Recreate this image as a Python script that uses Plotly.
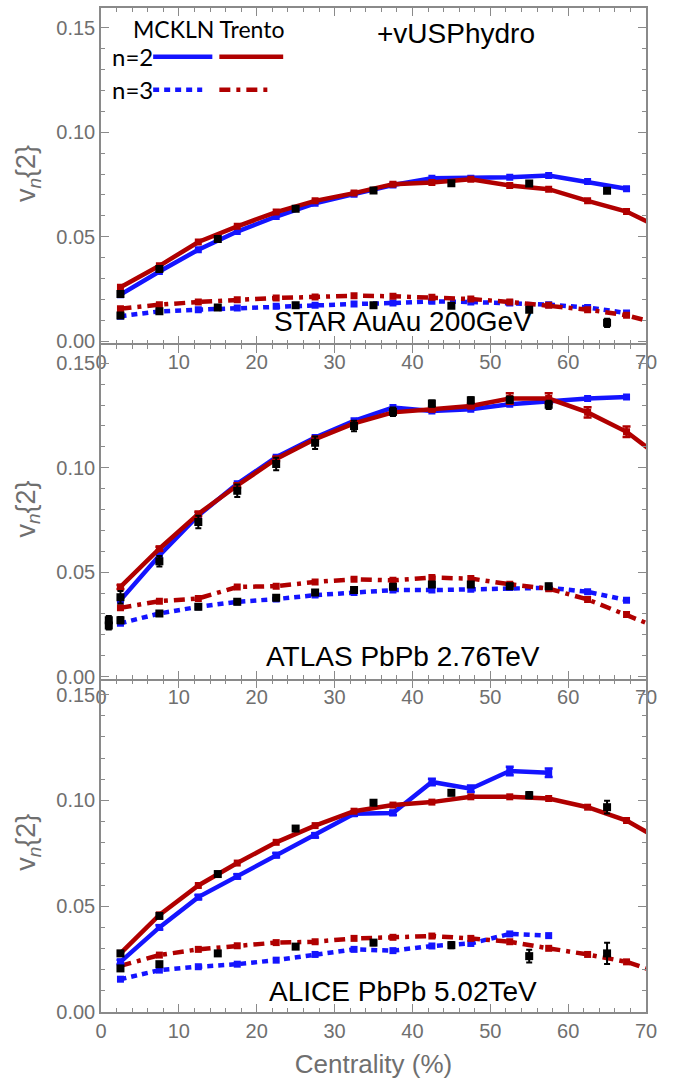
import plotly.graph_objects as go

# ---------------- data ----------------
cent_model = [2.5, 7.5, 12.5, 17.5, 22.5, 27.5, 32.5, 37.5, 42.5, 47.5, 52.5, 57.5, 62.5, 67.5]
cent_model_ext = cent_model + [72.5]
cent_exp = [2.5, 7.5, 15, 25, 35, 45, 55, 65]
cent_atlas = [1.0, 2.5, 7.5, 12.5, 17.5, 22.5, 27.5, 32.5, 37.5, 42.5, 47.5, 52.5, 57.5]

# STAR AuAu 200 GeV
star_mckln_v2 = [0.0223, 0.0334, 0.0438, 0.0525, 0.0597, 0.0660, 0.0704, 0.0748, 0.0780, 0.0780, 0.0785, 0.0793, 0.0764, 0.0730]
star_trento_v2 = [0.0258, 0.0361, 0.0475, 0.0550, 0.0618, 0.0672, 0.0709, 0.0752, 0.0760, 0.0775, 0.0745, 0.0728, 0.0672, 0.0621, 0.0530]
star_mckln_v3 = [0.0120, 0.0143, 0.0151, 0.0159, 0.0167, 0.0172, 0.0178, 0.0183, 0.0191, 0.0188, 0.0183, 0.0175, 0.0162, 0.0135]
star_trento_v3 = [0.0156, 0.0175, 0.0188, 0.0199, 0.0207, 0.0212, 0.0218, 0.0215, 0.0210, 0.0202, 0.0188, 0.0172, 0.0151, 0.0124, 0.0075]
star_v2 = [0.0226, 0.0346, 0.0489, 0.0634, 0.0721, 0.0756, 0.0755, 0.0720]
star_v2_err = [0.0008, 0.0008, 0.0008, 0.0008, 0.0008, 0.0008, 0.0008, 0.0010]
star_v3 = [0.0123, 0.0143, 0.0162, 0.0172, 0.0172, 0.0170, 0.0151, 0.0088]
star_v3_err = [0.0008, 0.0008, 0.0008, 0.0008, 0.0008, 0.0008, 0.0010, 0.0020]

# ATLAS PbPb 2.76 TeV
atlas_mckln_v2 = [0.0366, 0.0580, 0.0771, 0.0923, 0.1050, 0.1145, 0.1225, 0.1288, 0.1272, 0.1280, 0.1304, 0.1320, 0.1331, 0.1339]
atlas_trento_v2 = [0.0429, 0.0612, 0.0779, 0.0915, 0.1042, 0.1137, 0.1212, 0.1265, 0.1280, 0.1296, 0.1331, 0.1331, 0.1265, 0.1172, 0.1030]
atlas_trento_v2_err = [0.001, 0.001, 0.001, 0.001, 0.001, 0.001, 0.001, 0.001, 0.001, 0.001, 0.0025, 0.0025, 0.0025, 0.0025, 0.0025]
atlas_mckln_v3 = [0.0255, 0.0302, 0.0334, 0.0358, 0.0371, 0.0390, 0.0402, 0.0414, 0.0414, 0.0418, 0.0426, 0.0425, 0.0406, 0.0366]
atlas_trento_v3 = [0.0329, 0.0361, 0.0374, 0.0429, 0.0433, 0.0453, 0.0466, 0.0461, 0.0474, 0.0469, 0.0442, 0.0421, 0.0369, 0.0297, 0.0220]
atlas_v2 = [0.0270, 0.0380, 0.0552, 0.0740, 0.0890, 0.1018, 0.1120, 0.1200, 0.1268, 0.1307, 0.1323, 0.1325, 0.1301]
atlas_v2_err = [0.0020, 0.0030, 0.0025, 0.0030, 0.0030, 0.0030, 0.0030, 0.0025, 0.0020, 0.0015, 0.0015, 0.0015, 0.0020]
atlas_v3 = [0.0245, 0.0270, 0.0302, 0.0334, 0.0358, 0.0377, 0.0402, 0.0414, 0.0430, 0.0441, 0.0441, 0.0433, 0.0433]
atlas_v3_err = [0.0020, 0.0015, 0.0012, 0.0012, 0.0012, 0.0012, 0.0012, 0.0012, 0.0012, 0.0012, 0.0012, 0.0012, 0.0012]

# ALICE PbPb 5.02 TeV
alice_mckln_v2 = [0.0237, 0.0400, 0.0543, 0.0641, 0.0741, 0.0835, 0.0937, 0.0941, 0.1087, 0.1055, 0.1139, 0.1131]
alice_mckln_v2_err = [0.001, 0.001, 0.001, 0.001, 0.001, 0.001, 0.001, 0.001, 0.0015, 0.0015, 0.002, 0.002]
alice_trento_v2 = [0.0277, 0.0459, 0.0598, 0.0704, 0.0802, 0.0881, 0.0949, 0.0978, 0.0992, 0.1017, 0.1017, 0.1009, 0.0968, 0.0905, 0.0800]
alice_mckln_v3 = [0.0155, 0.0198, 0.0214, 0.0226, 0.0245, 0.0272, 0.0296, 0.0290, 0.0312, 0.0324, 0.0369, 0.0361]
alice_trento_v3 = [0.0218, 0.0269, 0.0296, 0.0313, 0.0328, 0.0332, 0.0348, 0.0353, 0.0359, 0.0348, 0.0332, 0.0301, 0.0272, 0.0237, 0.0175]
alice_v2 = [0.0277, 0.0454, 0.0652, 0.0867, 0.0989, 0.1036, 0.1025, 0.0968]
alice_v2_err = [0.0010, 0.0010, 0.0008, 0.0008, 0.0010, 0.0012, 0.0015, 0.0030]
alice_v3 = [0.0206, 0.0226, 0.0277, 0.0309, 0.0328, 0.0316, 0.0264, 0.0277]
alice_v3_err = [0.0010, 0.0010, 0.0008, 0.0010, 0.0012, 0.0015, 0.0030, 0.0050]

panel_labels = ["STAR AuAu 200GeV", "ATLAS PbPb 2.76TeV", "ALICE PbPb 5.02TeV"]
x_ticks = [0, 10, 20, 30, 40, 50, 60, 70]

BLUE = "#1414ff"
RED = "#b00000"
GRAY = "#6f6f6f"
FRAME = "#8a8a8a"
LW = 4.5
DOT = "6px,5px"
DASHDOT = "11px,6px,4px,6px"

fig = go.Figure()

panels = [
    dict(mv2=star_mckln_v2, tv2=star_trento_v2, mv3=star_mckln_v3, tv3=star_trento_v3,
         ex=cent_exp, ev2=star_v2, ev2e=star_v2_err, ev3=star_v3, ev3e=star_v3_err,
         mv2e=None, tv2e=None),
    dict(mv2=atlas_mckln_v2, tv2=atlas_trento_v2, mv3=atlas_mckln_v3, tv3=atlas_trento_v3,
         ex=cent_atlas, ev2=atlas_v2, ev2e=atlas_v2_err, ev3=atlas_v3, ev3e=atlas_v3_err,
         mv2e=None, tv2e=atlas_trento_v2_err),
    dict(mv2=alice_mckln_v2, tv2=alice_trento_v2, mv3=alice_mckln_v3, tv3=alice_trento_v3,
         ex=cent_exp, ev2=alice_v2, ev2e=alice_v2_err, ev3=alice_v3, ev3e=alice_v3_err,
         mv2e=alice_mckln_v2_err, tv2e=None),
]

def model_trace(x, y, color, dash, xa, ya, err=None):
    t = go.Scatter(x=x[:len(y)], y=y, mode="lines+markers", xaxis=xa, yaxis=ya,
                   line=dict(color=color, width=LW, dash=dash),
                   marker=dict(symbol="square", size=7, color=color),
                   showlegend=False, hoverinfo="skip")
    if err is not None:
        t.error_y = dict(type="data", array=err, color=color, thickness=2.5, width=4)
    return t

def exp_trace(x, y, e, xa, ya):
    return go.Scatter(x=x, y=y, mode="markers", xaxis=xa, yaxis=ya,
                      marker=dict(symbol="square", size=8, color="black"),
                      error_y=dict(type="data", array=e, color="black", thickness=2, width=3),
                      showlegend=False, hoverinfo="skip")

for i, p in enumerate(panels):
    xa = "x" if i == 0 else f"x{i+1}"
    ya = "y" if i == 0 else f"y{i+1}"
    fig.add_trace(model_trace(cent_model_ext, p["mv3"], BLUE, DOT, xa, ya))
    fig.add_trace(model_trace(cent_model_ext, p["tv3"], RED, DASHDOT, xa, ya))
    fig.add_trace(model_trace(cent_model_ext, p["mv2"], BLUE, "solid", xa, ya, p["mv2e"]))
    fig.add_trace(model_trace(cent_model_ext, p["tv2"], RED, "solid", xa, ya, p["tv2e"]))
    fig.add_trace(exp_trace(p["ex"], p["ev3"], p["ev3e"], xa, ya))
    fig.add_trace(exp_trace(p["ex"], p["ev2"], p["ev2e"], xa, ya))

H = 1084
mt, mb = 6, 72
ph = H - mt - mb
def pdom(top_px, bot_px):
    return [(H - mb - bot_px) / ph, (H - mb - top_px) / ph]

domains = [pdom(6, 342), pdom(344, 678), pdom(680, 1012)]
yranges = [[-0.001, 0.1595], [-0.001, 0.1586], [0.0, 0.1566]]

axis_common = dict(showgrid=False, zeroline=False, showline=True, linecolor=FRAME, linewidth=1.5,
                   mirror="allticks", ticks="inside", ticklen=8, tickwidth=1.2, tickcolor=FRAME,
                   tickfont=dict(family="Liberation Sans", size=20, color=GRAY))

layout = dict(width=687, height=H, margin=dict(l=101, r=41, t=mt, b=mb),
              plot_bgcolor="white", paper_bgcolor="white", showlegend=False)

for i in range(3):
    xk = "xaxis" if i == 0 else f"xaxis{i+1}"
    yk = "yaxis" if i == 0 else f"yaxis{i+1}"
    ya = "y" if i == 0 else f"y{i+1}"
    xa = "x" if i == 0 else f"x{i+1}"
    layout[xk] = dict(axis_common, range=[0, 70], tickmode="array", tickvals=x_ticks,
                      minor=dict(tickmode="linear", tick0=0, dtick=2, ticks="inside", ticklen=4,
                                 tickcolor=FRAME, tickwidth=1),
                      anchor=ya, domain=[0, 1])
    layout[yk] = dict(axis_common, range=yranges[i], tickmode="linear", tick0=0, dtick=0.05,
                      tickformat=".2f",
                      minor=dict(tickmode="linear", tick0=0, dtick=0.01, ticks="inside", ticklen=4,
                                 tickcolor=FRAME, tickwidth=1),
                      anchor=xa, domain=domains[i])

fig.update_layout(**layout)
fig.update_layout(xaxis3=dict(title=dict(text="Centrality (%)", standoff=14,
                                         font=dict(family="Liberation Sans", size=26, color=GRAY))))

annotations = []
for i in range(3):
    xr = "x" if i == 0 else f"x{i+1}"
    yr = "y" if i == 0 else f"y{i+1}"
    annotations.append(dict(text=panel_labels[i], xref=xr, yref=yr, x=38.8, y=0.0095,
                            xanchor="center", yanchor="middle", showarrow=False,
                            font=dict(family="Liberation Sans", size=28, color="black")))
    annotations.append(dict(text="v<sub><i>n</i></sub>{2}", xref="paper", yref=yr, x=0, y=0.08,
                            xshift=-73, xanchor="center", yanchor="middle", textangle=-90,
                            showarrow=False,
                            font=dict(family="Liberation Sans", size=27, color=GRAY)))

# legend / header in top panel
annotations += [
    dict(text="+vUSPhydro", xref="x", yref="y", x=45.6, y=0.1475, xanchor="center", yanchor="middle",
         showarrow=False, font=dict(family="Liberation Sans", size=28, color="black")),
    dict(text="MCKLN Trento", xref="x", yref="y", x=13.9, y=0.1495, xanchor="center", yanchor="middle",
         showarrow=False, font=dict(family="Lato", size=23, color="black")),
    dict(text="n=2", xref="x", yref="y", x=6.9, y=0.1362, xanchor="right", yanchor="middle",
         showarrow=False, font=dict(family="Lato", size=24, color="black")),
    dict(text="n=3", xref="x", yref="y", x=6.9, y=0.1204, xanchor="right", yanchor="middle",
         showarrow=False, font=dict(family="Lato", size=24, color="black")),
]
fig.update_layout(annotations=annotations)

shapes = [
    dict(type="line", xref="x", yref="y", x0=6.7, x1=14.3, y0=0.1362, y1=0.1362,
         line=dict(color=BLUE, width=LW)),
    dict(type="line", xref="x", yref="y", x0=15.2, x1=23.4, y0=0.1362, y1=0.1362,
         line=dict(color=RED, width=LW)),
    dict(type="line", xref="x", yref="y", x0=6.7, x1=13.0, y0=0.1204, y1=0.1204,
         line=dict(color=BLUE, width=LW, dash=DOT)),
    dict(type="line", xref="x", yref="y", x0=15.2, x1=22.1, y0=0.1204, y1=0.1204,
         line=dict(color=RED, width=LW, dash=DASHDOT)),
]
fig.update_layout(shapes=shapes)

fig.write_html("out.html")
